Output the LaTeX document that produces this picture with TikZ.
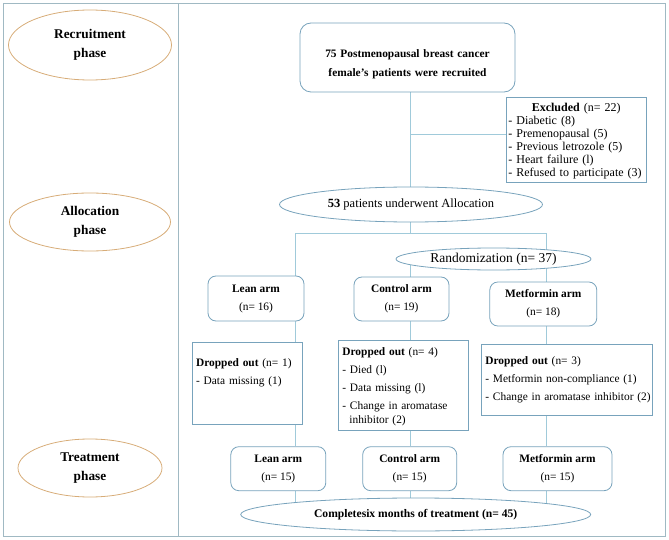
\documentclass[tikz,border=0pt]{standalone}
\usepackage{fontspec}
\setmainfont{Liberation Serif}
\usepackage{tikz}
\usetikzlibrary{shapes.geometric}
\definecolor{framecol}{RGB}{160,185,195}
\definecolor{phasecol}{RGB}{215,172,120}
\definecolor{boxcol}{RGB}{120,163,188}
\definecolor{linecol}{RGB}{160,202,218}
\pgfdeclarelayer{bg}
\pgfsetlayers{bg,main}

\tikzset{
  phase/.style={ellipse, draw=phasecol, line width=0.8pt, inner sep=0pt, align=center,
    font=\fontsize{13.3}{19}\selectfont\bfseries},
  armbox/.style={rectangle, rounded corners=8pt, draw=boxcol, line width=0.8pt, fill=white,
    align=center, font=\fontsize{11.4}{18}\selectfont},
  dropbox/.style={rectangle, draw=boxcol, line width=0.8pt, fill=white, inner sep=4pt,
    anchor=north west, align=left, font=\fontsize{11.4}{14}\selectfont},
  flowoval/.style={ellipse, draw=boxcol, line width=0.8pt, fill=white, inner sep=0pt},
  link/.style={draw=linecol, line width=0.7pt}
}

\begin{document}
\begin{tikzpicture}[x=1pt, y=-1pt]
\useasboundingbox (0,0) rectangle (669,540);
% Frame
\draw [framecol, line width=1.2pt] (3.5,3.5) rectangle (665.5,536.5);
\draw [framecol, line width=1pt] (178.5,3.5) -- (178.5,536.5);
% Phases
\node [phase, minimum width=163pt, minimum height=70pt] (recP) at (90,45) {Recruitment\\phase};
\node [phase, minimum width=161pt, minimum height=58pt] (allP) at (90,222) {Allocation\\phase};
\node [phase, minimum width=144pt, minimum height=58pt] (treP) at (90,468) {Treatment\\phase};
% Recruitment
\node [armbox, rounded corners=11pt, inner sep=0pt, text width=215pt, text height=34.7pt,
  text depth=34.3pt, font=\fontsize{11.4}{19}\selectfont\bfseries] (recruit) at (407.5,57.5)
  {75 Postmenopausal breast cancer\\female's patients were recruited};
\node [dropbox, inner xsep=2pt, inner ysep=2pt, text width=135.6pt, text height=12.5pt,
  text depth=68.5pt, font=\fontsize{12}{12.9}\selectfont] (excl) at (506,97)
  {\makebox[135.6pt]{\textbf{Excluded} (n= 22)}\\- Diabetic (8)\\- Premenopausal (5)\\
   - Previous letrozole (5)\\- Heart failure (l)\\- Refused to participate (3)};
% Allocation
\node [flowoval, minimum width=263pt, minimum height=35pt, font=\fontsize{12.5}{15}\selectfont]
  (alloc) at (411,204.5) {\textbf{53} patients underwent Allocation};
\node [flowoval, minimum width=195pt, minimum height=22pt, font=\fontsize{13.5}{16}\selectfont]
  (rand) at (493.5,259) {Randomization (n= 37)};
\node [armbox, minimum width=96pt, minimum height=45pt] (leanA) at (256,298.5) {\textbf{Lean arm}\\(n= 16)};
\node [armbox, minimum width=95pt, minimum height=44pt] (conA) at (401.5,299) {\textbf{Control arm}\\(n= 19)};
\node [armbox, minimum width=107pt, minimum height=44pt] (metA) at (543.3,304) {\textbf{Metformin arm}\\(n= 18)};
% Dropped out
\node [dropbox, text width=102.3pt, text height=20.5pt, text depth=53.5pt] (dropL) at (191.7,342)
  {\textbf{Dropped out} (n= 1)\\[4pt]- Data missing (1)};
\node [dropbox, text width=122pt, text height=11.5pt, text depth=70pt] (dropC) at (338,340)
  {\textbf{Dropped out} (n= 4)\\[4pt]- Died (l)\\[4pt]- Data missing (l)\\[4pt]- Change in aromatase\\
   \hspace*{7pt}inhibitor (2)};
\node [dropbox, text width=163pt, text height=16.5pt, text depth=46.5pt] (dropM) at (481,344)
  {\textbf{Dropped out} (n= 3)\\[4pt]- Metformin non-compliance (1)\\[4pt]\mbox{- Change in aromatase inhibitor (2)}};
% Treatment
\node [armbox, minimum width=95pt, minimum height=44pt] (leanT) at (278.3,468.7) {\textbf{Lean arm}\\(n= 15)};
\node [armbox, minimum width=94pt, minimum height=44pt] (conT) at (409.7,468.7) {\textbf{Control arm}\\(n= 15)};
\node [armbox, minimum width=109pt, minimum height=44pt] (metT) at (557.5,468.7) {\textbf{Metformin arm}\\(n= 15)};
\node [flowoval, minimum width=350pt, minimum height=33pt, font=\fontsize{11.6}{14}\selectfont\bfseries]
  (done) at (415.7,514.5) {Completesix months of treatment (n= 45)};
% Lines
\coordinate (laneL) at (295,233);
\coordinate (laneC) at (410.5,233);
\coordinate (laneM) at (546,233);
\coordinate (tap) at (410.5,134);
\begin{pgfonlayer}{bg}
\draw [link] (recruit.south -| laneC) -- (alloc.north -| laneC);
\draw [link] (tap) -- (tap -| excl.west);
\draw [link] (alloc.south -| laneC) -- (laneC);
\draw [link] (laneL) -- (laneM);
\draw [link] (laneL) -- (leanA.north -| laneL);
\draw [link] (laneM) -- (metA.north -| laneM);
\draw [link] (laneC |- rand.center) -- (conA.north -| laneC);
\foreach \a/\b/\l in {leanA/dropL/laneL, conA/dropC/laneC, metA/dropM/laneM,
                      dropL/leanT/laneL, dropC/conT/laneC, dropM/metT/laneM}
  \draw [link] (\a.south -| \l) -- (\b.north -| \l);
\foreach \a/\l in {leanT/laneL, conT/laneC, metT/laneM}
  \draw [link] (\a.south -| \l) -- (done.center -| \l);
\end{pgfonlayer}
\end{tikzpicture}
\end{document}
